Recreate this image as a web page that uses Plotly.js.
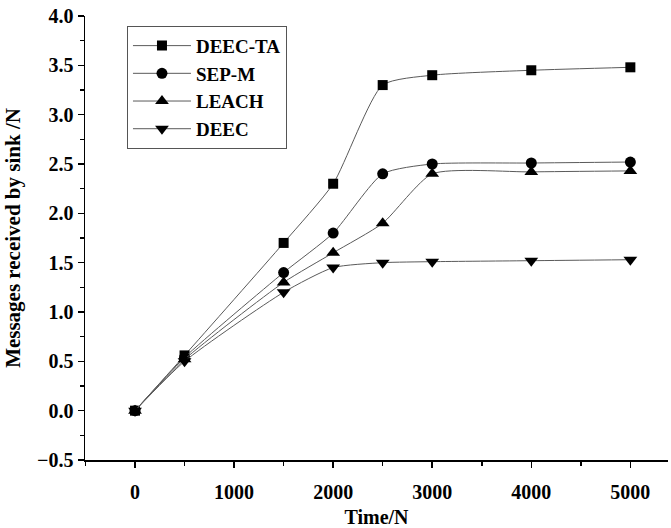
<!DOCTYPE html>
<html>
<head>
<meta charset="utf-8">
<script src="https://cdn.plot.ly/plotly-3.0.1.min.js"></script>
<style>html,body{margin:0;padding:0;background:#fff;}#chart{width:671px;height:528px;}</style>
</head>
<body>
<div id="chart"></div>
<script>
const timeN = [0, 500, 1500, 2000, 2500, 3000, 4000, 5000];
const deecTA = [0, 0.56, 1.70, 2.30, 3.30, 3.40, 3.45, 3.48];
const sepM   = [0, 0.54, 1.40, 1.80, 2.40, 2.50, 2.51, 2.52];
const leach  = [0, 0.52, 1.30, 1.60, 1.90, 2.40, 2.42, 2.43];
const deec   = [0, 0.50, 1.20, 1.45, 1.50, 1.51, 1.52, 1.53];
const seriesNames = ['DEEC-TA', 'SEP-M', 'LEACH', 'DEEC'];
const seriesVals = [deecTA, sepM, leach, deec];
const symbols = ['square', 'circle', 'triangle-up', 'triangle-down'];
const sizes = [10, 11, 12, 12];

const traces = seriesNames.map((n, i) => ({
  x: timeN, y: seriesVals[i], name: n, type: 'scatter', mode: 'lines+markers',
  line: {color: '#5a5a5a', width: 1, shape: 'spline', smoothing: 0.6},
  marker: {symbol: symbols[i], size: sizes[i], color: '#000000'}
}));

const fam = 'Liberation Serif';
const layout = {
  width: 671, height: 528,
  margin: {l: 85, r: 3, t: 16, b: 68},
  paper_bgcolor: '#fff', plot_bgcolor: '#fff',
  font: {family: fam, color: '#000'},
  showlegend: true,
  legend: {
    x: 0.072, y: 0.978, xanchor: 'left', yanchor: 'top',
    bordercolor: '#555', borderwidth: 1, bgcolor: '#fff',
    font: {family: fam, size: 19, color: '#000', weight: 700},
    tracegroupgap: 0, itemwidth: 58
  },
  xaxis: {
    range: [-505, 5380], tickmode: 'linear', tick0: 0, dtick: 1000,
    showgrid: false, zeroline: false, showline: true, linecolor: '#000', linewidth: 1.5,
    ticks: 'outside', ticklen: 6, tickwidth: 1.5, tickcolor: '#000',
    ticklabelstandoff: 7,
    minor: {dtick: 500, tick0: 0, ticks: 'outside', ticklen: 4, tickwidth: 1.5, tickcolor: '#000'},
    tickfont: {family: fam, size: 20, color: '#000', weight: 700},
    title: {text: 'Time/N', font: {family: fam, size: 20, color: '#000', weight: 700}, standoff: 15}
  },
  yaxis: {
    range: [-0.5, 4.0], tickmode: 'linear', tick0: 0, dtick: 0.5, tickformat: '.1f',
    showgrid: false, zeroline: false, showline: true, linecolor: '#000', linewidth: 1.5,
    ticks: 'outside', ticklen: 6, tickwidth: 1.5, tickcolor: '#000',
    ticklabelstandoff: 0,
    minor: {dtick: 0.25, tick0: 0, ticks: 'outside', ticklen: 4, tickwidth: 1.5, tickcolor: '#000'},
    tickfont: {family: fam, size: 20, color: '#000', weight: 700},
    title: {text: 'Messages received by sink /N', font: {family: fam, size: 21, color: '#000', weight: 700}, standoff: 10}
  }
};
Plotly.newPlot('chart', traces, layout, {displayModeBar: false, staticPlot: true});
</script>
</body>
</html>
